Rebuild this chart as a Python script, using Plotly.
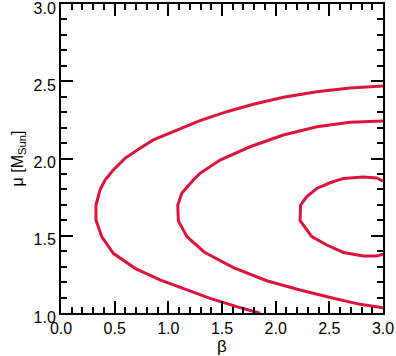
import plotly.graph_objects as go

# Confidence contours in the (beta, mu) plane
outer_beta = [3.0, 2.693, 2.383, 2.072, 1.792, 1.544, 1.295, 1.078, 0.860, 0.736,
              0.596, 0.487, 0.410, 0.363, 0.326, 0.326, 0.379, 0.487, 0.690, 0.923,
              1.171, 1.389, 1.637, 1.855]
outer_mu = [2.469, 2.456, 2.432, 2.396, 2.351, 2.303, 2.245, 2.184, 2.120, 2.066,
            2.001, 1.926, 1.861, 1.796, 1.699, 1.602, 1.494, 1.386, 1.289, 1.214,
            1.149, 1.095, 1.041, 0.998]

middle_beta = [3.0, 2.693, 2.383, 2.072, 1.761, 1.482, 1.295, 1.233, 1.125, 1.088,
               1.093, 1.174, 1.333, 1.606, 1.917, 2.227, 2.538, 2.787, 3.0]
middle_mu = [2.243, 2.234, 2.206, 2.152, 2.076, 1.990, 1.904, 1.861, 1.775, 1.699,
             1.596, 1.494, 1.395, 1.294, 1.209, 1.149, 1.095, 1.056, 1.034]

inner_beta = [3.0, 2.942, 2.817, 2.631, 2.507, 2.383, 2.290, 2.232, 2.227, 2.336,
              2.476, 2.631, 2.817, 2.942, 3.0]
inner_mu = [1.854, 1.874, 1.880, 1.871, 1.843, 1.806, 1.753, 1.699, 1.599, 1.494,
            1.440, 1.392, 1.369, 1.369, 1.380]

line_color = '#dc143c'

fig = go.Figure()
for xs, ys in [(outer_beta, outer_mu), (middle_beta, middle_mu), (inner_beta, inner_mu)]:
    fig.add_trace(go.Scatter(x=xs, y=ys, mode='lines',
                             line=dict(color=line_color, width=3),
                             showlegend=False, cliponaxis=True))

axis_common = dict(
    showgrid=False, zeroline=False, automargin=False,
    showline=True, linecolor='black', linewidth=2, mirror='ticks',
    ticks='inside', ticklen=12, tickwidth=1.5, tickcolor='black',
    dtick=0.5, tickformat='.1f', ticklabeloverflow='allow',
    minor=dict(ticks='inside', ticklen=6, tickwidth=1.5, tickcolor='black', dtick=0.1),
    tickfont=dict(size=16, color='black'),
)

fig.update_xaxes(range=[0, 3], tick0=0,
                 title=dict(text='β', font=dict(size=17, color='black'), standoff=0),
                 **axis_common)
# y labels sit a little below their ticks in the original
fig.update_yaxes(range=[1, 3], tick0=1, ticklabelshift=4,
                 title=dict(text='μ [M<sub>Sun</sub>]', font=dict(size=16, color='black'), standoff=6),
                 **axis_common)

fig.update_layout(
    width=396, height=356,
    margin=dict(l=61, r=13, t=4, b=43),
    plot_bgcolor='white', paper_bgcolor='white',
    font=dict(family='Liberation Sans, Arial, sans-serif', color='black'),
)

# the page body has a default 8px margin; drop it so the figure sits at the corner
fig.write_html("out.html", config={'displayModeBar': False},
               post_script="document.body.style.margin='0';")
